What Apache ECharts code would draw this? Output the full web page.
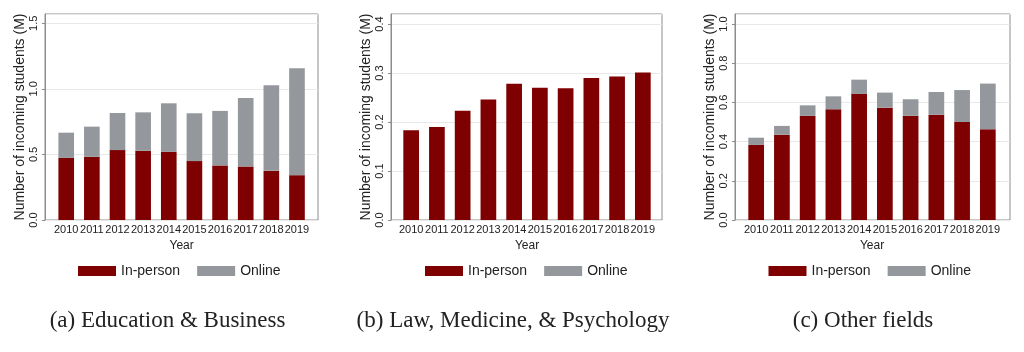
<!DOCTYPE html>
<html><head><meta charset="utf-8">
<script src="https://cdn.jsdelivr.net/npm/echarts@6/dist/echarts.min.js"></script>
<style>html,body{margin:0;padding:0;background:#fff}#c{width:1024px;height:352px}</style>
</head><body><div id="c"></div>
<script>
const years = ['2010','2011','2012','2013','2014','2015','2016','2017','2018','2019'];
const eduInPerson = [0.474,0.482,0.533,0.528,0.520,0.449,0.416,0.408,0.375,0.342];
const eduOnline   = [0.192,0.230,0.283,0.293,0.370,0.365,0.416,0.523,0.653,0.816];
const lawInPerson = [0.183,0.190,0.223,0.246,0.278,0.270,0.269,0.290,0.293,0.301];
const lawOnline   = [0,0,0,0,0,0,0,0,0,0];
const othInPerson = [0.383,0.435,0.531,0.565,0.643,0.573,0.532,0.537,0.500,0.463];
const othOnline   = [0.037,0.045,0.054,0.066,0.073,0.077,0.084,0.116,0.163,0.233];
const captions = ['(a) Education & Business','(b) Law, Medicine, & Psychology','(c) Other fields'];
const yTitle = 'Number of incoming students (M)';
const xTitle = 'Year';
const seriesNames = ['In-person','Online'];

const RED = '#7f0000', GREY = '#94989c';
const panels = [
  {inP: eduInPerson, onl: eduOnline, max: 1.571, interval: 0.5,
   frame:{left:45,right:706}, bars:{left:53.4,right:714.2}, center:180, capCenter:167.5},
  {inP: lawInPerson, onl: lawOnline, max: 0.4204, interval: 0.1,
   frame:{left:391,right:362}, bars:{left:398.3,right:368.3}, center:527, capCenter:513},
  {inP: othInPerson, onl: othOnline, max: 1.051, interval: 0.2,
   frame:{left:735,right:14}, bars:{left:743.3,right:23.3}, center:870.5, capCenter:863}
];
const TOP = 14, BOTTOM = 132;
const FONT = 'Liberation Sans';

const grid = [], xAxis = [], yAxis = [], series = [], legend = [], title = [];
panels.forEach((p, i) => {
  const fi = grid.length;
  grid.push({left:p.frame.left, right:p.frame.right, top:TOP, bottom:BOTTOM,
    show:true, borderColor:'#8c8c8c', borderWidth:1, backgroundColor:'#fff'});
  xAxis.push({gridIndex:fi, type:'value', min:0, max:1, show:false});
  yAxis.push({gridIndex:fi, type:'value', min:0, max:p.max, interval:p.interval,
    axisLine:{show:true, lineStyle:{color:'#8c8c8c'}},
    axisTick:{show:true, length:3, lineStyle:{color:'#8c8c8c'}},
    splitLine:{show:true, lineStyle:{color:'#e8e8e8', width:1}},
    axisLabel:{rotate:90, margin:6, fontSize:11, fontFamily:FONT, color:'#222',
      showMaxLabel:false, formatter:v => v.toFixed(1)},
    name:yTitle, nameLocation:'middle', nameGap:15,
    nameTextStyle:{fontSize:14, fontFamily:FONT, color:'#222'}});
  const bi = grid.length;
  grid.push({left:p.bars.left, right:p.bars.right, top:TOP, bottom:BOTTOM});
  xAxis.push({gridIndex:bi, type:'category', data:years, boundaryGap:true,
    axisLine:{show:false}, axisTick:{show:false},
    axisLabel:{interval:0, margin:4, fontSize:11, fontFamily:FONT, color:'#222'},
    name:xTitle, nameLocation:'middle', nameGap:18,
    nameTextStyle:{fontSize:12, fontFamily:FONT, color:'#222'}});
  yAxis.push({gridIndex:bi, type:'value', min:0, max:p.max, show:false, splitLine:{show:false}});
  series.push({name:seriesNames[0], type:'bar', xAxisIndex:bi, yAxisIndex:bi, stack:'s'+i,
    data:p.inP, barWidth:'61%', itemStyle:{color:RED}});
  series.push({name:seriesNames[1], type:'bar', xAxisIndex:bi, yAxisIndex:bi, stack:'s'+i,
    data:p.onl, barWidth:'61%', itemStyle:{color:GREY}});
  legend.push({data:seriesNames, left:p.center - 102, top:264, padding:0, itemWidth:38, itemHeight:10,
    itemGap:17, icon:'rect', textStyle:{fontSize:14, fontFamily:FONT, color:'#222'}});
  title.push({text:captions[i], left:p.capCenter, top:309, padding:0, textAlign:'center',
    textStyle:{fontFamily:'Liberation Serif', fontSize:23, fontWeight:'normal', color:'#222'}});
});

const chart = echarts.init(document.getElementById('c'), null, {renderer:'canvas'});
chart.setOption({animation:false, backgroundColor:'#fff', grid, xAxis, yAxis, series, legend, title});
</script></body></html>
